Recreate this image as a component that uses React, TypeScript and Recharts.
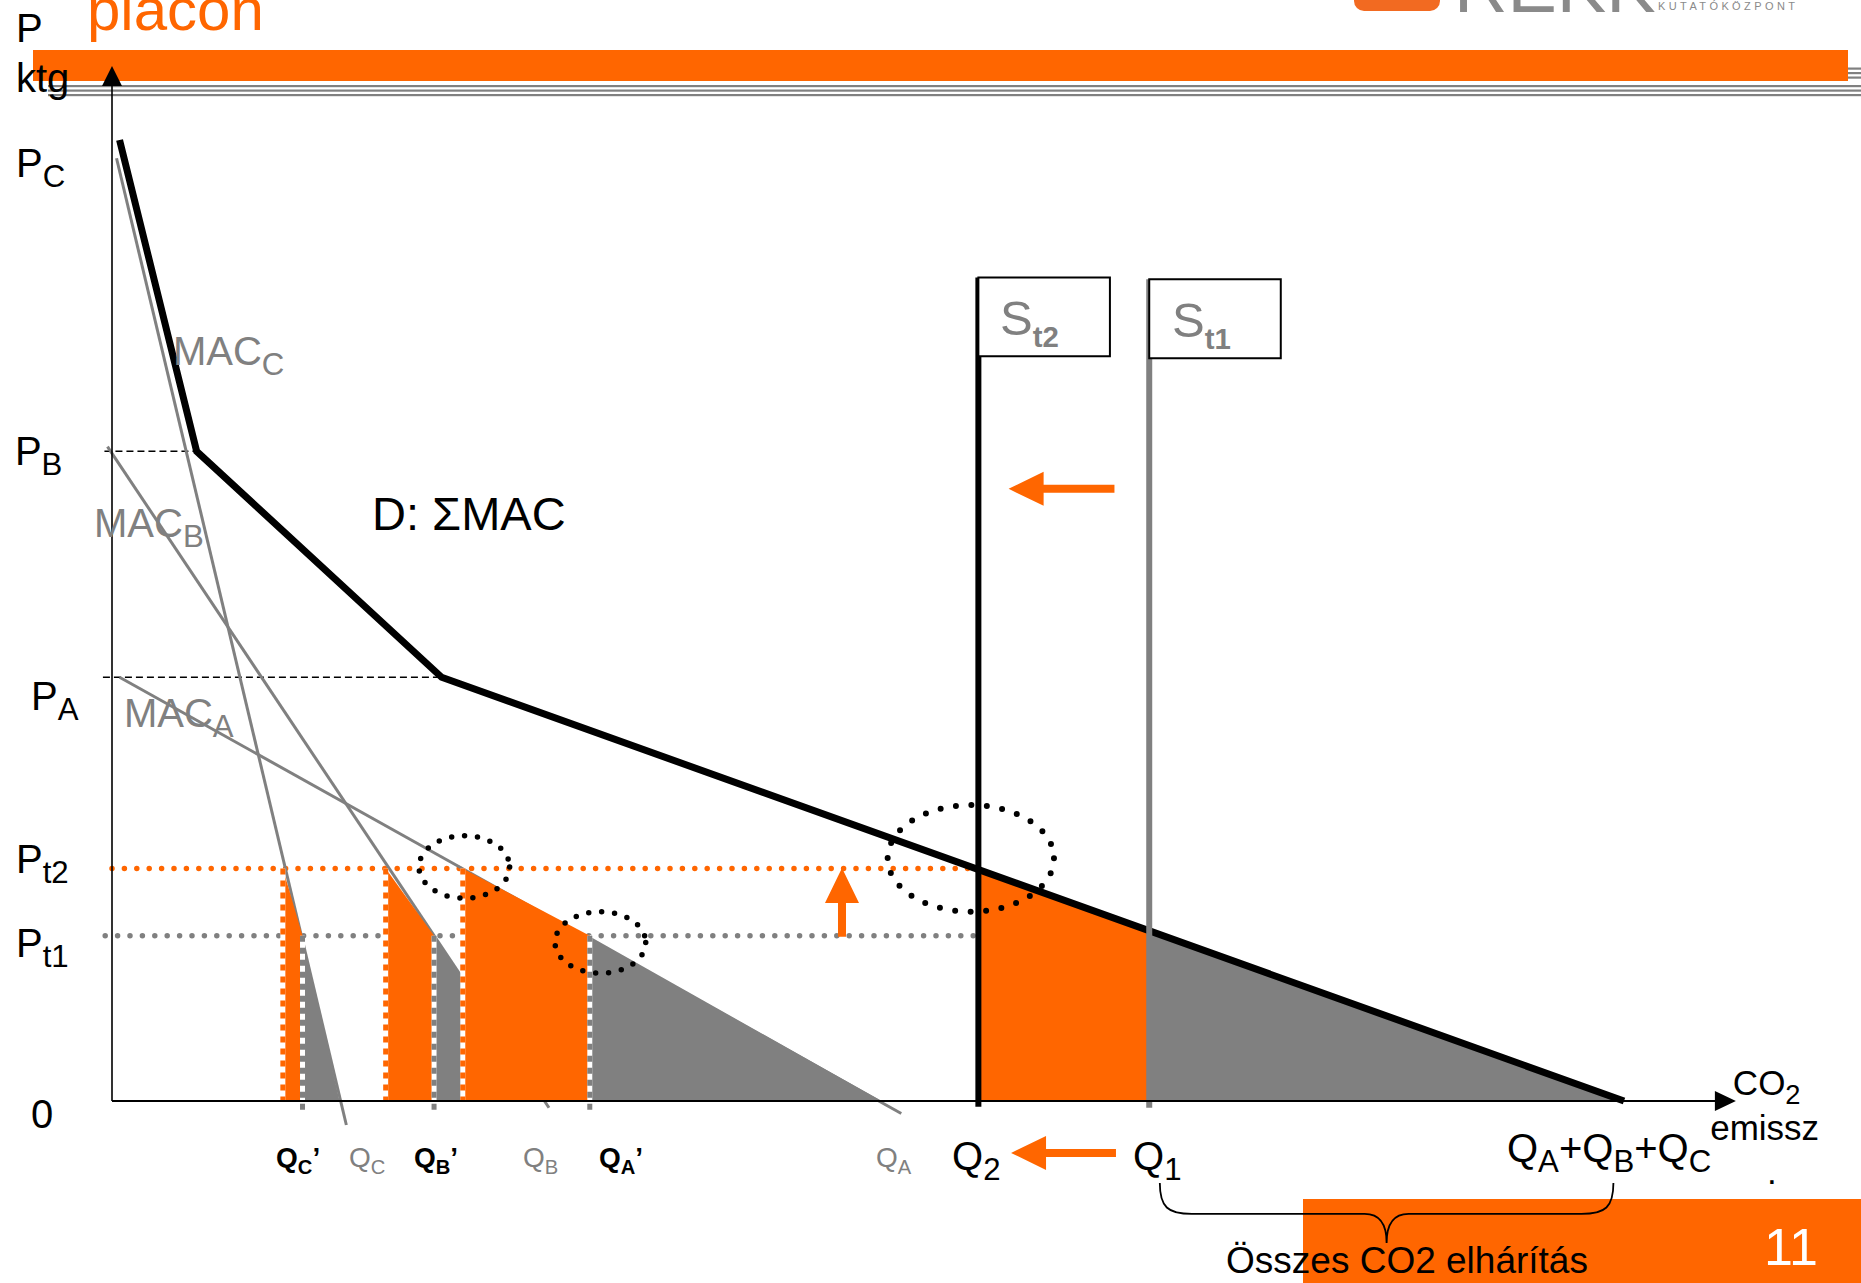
import React from 'react';
import {
  Area,
  ComposedChart,
  Line,
  ReferenceArea,
  ReferenceDot,
  ReferenceLine,
  XAxis,
  YAxis,
} from 'recharts';

const FONT = "'Liberation Sans', Arial, Helvetica, sans-serif";
const ORANGE = '#FF6600';
const GRAY = '#808080';
const W = 1861;
const H = 1283;

// price levels (price units)
const P_B = 67.6;
const P_A = 44.1;
const P_T2 = 24.2;
const P_T1 = 17.2;

// aggregate demand D = sum of MAC curves
const demandPoints = [
  { x: 0.5, y: 100 },
  { x: 5.6, y: 67.6 },
  { x: 21.8, y: 44.1 },
  { x: 100, y: 0 },
];

// marginal abatement cost lines of the three firms
const macC = [
  { x: 0.3, y: 98.1 },
  { x: 15.5, y: -2.5 },
];
const macB = [
  { x: -0.3, y: 68.1 },
  { x: 28.9, y: -0.7 },
];
const macA = [
  { x: 0.5, y: 44.1 },
  { x: 52.2, y: -1.3 },
];

// firm emissions: C, B, A
const firms = ['C', 'B', 'A'];
const qAtPt2 = [11.3, 18.1, 23.2];
const qAtPt1 = [12.6, 21.3, 31.6];
const qFree = [15.1, 28.6, 51.0];

// caps and totals
const Q2 = 57.3;
const Q1 = 68.6;
const Q_SUM = 100;
const D_AT_Q1 = 17.6;
const capTops = [85.7, 85.5]; // S_t2, S_t1

const X_DOMAIN: [number, number] = [-7, 115.5];
const Y_DOMAIN: [number, number] = [-18, 112];
const MARGIN = { top: 24.68, right: 2.64, bottom: 9.02, left: 6.16 };

type Part = [string, 's'?];
interface LabelDef {
  at: [number, number];
  parts: Part[];
  size: number;
  fill?: string;
  bold?: boolean;
  subBold?: boolean;
  subScale?: number;
}

const LABELS: LabelDef[] = [
  { at: [-6.35, 110.2], parts: [['P']], size: 40 },
  { at: [-6.35, 105.0], parts: [['ktg']], size: 40 },
  { at: [-6.35, 96.15], parts: [['P'], ['C', 's']], size: 40 },
  { at: [-6.42, 66.2], parts: [['P'], ['B', 's']], size: 40 },
  { at: [-5.36, 40.69], parts: [['P'], ['A', 's']], size: 40 },
  { at: [-6.35, 23.73], parts: [['P'], ['t2', 's']], size: 40 },
  { at: [-6.35, 14.98], parts: [['P'], ['t1', 's']], size: 40 },
  { at: [-5.36, -2.81], parts: [['0']], size: 40 },
  { at: [4.03, 76.59], parts: [['MAC'], ['C', 's']], size: 40, fill: GRAY },
  { at: [-1.19, 58.69], parts: [['MAC'], ['B', 's']], size: 40, fill: GRAY },
  { at: [0.79, 38.92], parts: [['MAC'], ['A', 's']], size: 40, fill: GRAY },
  { at: [17.2, 59.4], parts: [['D: ΣMAC']], size: 47 },
  { at: [58.73, 79.71], parts: [['S'], ['t2', 's']], size: 49, fill: GRAY, subBold: true, subScale: 0.6 },
  { at: [70.11, 79.5], parts: [['S'], ['t1', 's']], size: 49, fill: GRAY, subBold: true, subScale: 0.6 },
  { at: [10.85, -6.87], parts: [['Q'], ['C', 's'], ['’']], size: 28, bold: true, subScale: 0.72 },
  { at: [15.67, -6.87], parts: [['Q'], ['C', 's']], size: 28, fill: GRAY, subScale: 0.72 },
  { at: [19.97, -6.87], parts: [['Q'], ['B', 's'], ['’']], size: 28, bold: true, subScale: 0.72 },
  { at: [27.18, -6.87], parts: [['Q'], ['B', 's']], size: 28, fill: GRAY, subScale: 0.72 },
  { at: [32.21, -6.87], parts: [['Q'], ['A', 's'], ['’']], size: 28, bold: true, subScale: 0.72 },
  { at: [50.53, -6.87], parts: [['Q'], ['A', 's']], size: 28, fill: GRAY, subScale: 0.72 },
  { at: [55.56, -7.18], parts: [['Q'], ['2', 's']], size: 40 },
  { at: [67.53, -7.18], parts: [['Q'], ['1', 's']], size: 40 },
  { at: [92.26, -6.35], parts: [['Q'], ['A', 's'], ['+Q'], ['B', 's'], ['+Q'], ['C', 's']], size: 40 },
  { at: [107.2, 0.6], parts: [['CO'], ['2', 's']], size: 35 },
  { at: [105.7, -4.1], parts: [['emissz']], size: 35 },
  { at: [109.46, -8.6], parts: [['.']], size: 35 },
  { at: [73.68, -17.85], parts: [['Összes CO2 elhárítás']], size: 37 },
];

// dotted ellipses highlighting intersections
const ELLIPSES = [
  { x1: 51.3, x2: 62.3, y1: 19.7, y2: 30.8, w: 6, gap: 15.5 },
  { x1: 20.3, x2: 26.3, y1: 21.1, y2: 27.6, w: 5.5, gap: 13 },
  { x1: 29.3, x2: 35.3, y1: 13.3, y2: 19.7, w: 5.5, gap: 13 },
];

// orange arrows: [tail, tip]
const ARROWS = [
  [{ x: 66.3, y: 63.7 }, { x: 59.3, y: 63.7 }],
  [{ x: 48.28, y: 17.1 }, { x: 48.28, y: 24.25 }],
  [{ x: 66.4, y: -5.4 }, { x: 59.46, y: -5.4 }],
];

function RichText({ cx, cy, def }: { cx: number; cy: number; def: LabelDef }) {
  const sub = def.size * (def.subScale ?? 0.78);
  const shift = def.size * 0.25;
  let offset = 0;
  return (
    <text
      x={cx}
      y={cy}
      fontFamily={FONT}
      fontSize={def.size}
      fill={def.fill ?? '#000'}
      fontWeight={def.bold ? 'bold' : 'normal'}
    >
      {def.parts.map(([t, k], i) => {
        const target = k === 's' ? shift : 0;
        const dy = target - offset;
        offset = target;
        return (
          <tspan
            key={i}
            dy={dy}
            fontSize={k === 's' ? sub : def.size}
            fontWeight={k === 's' && def.subBold ? 'bold' : undefined}
          >
            {t}
          </tspan>
        );
      })}
    </text>
  );
}

const arrowShape = (head: number, half: number, shaft: number, color: string) => (p: any) => {
  const { x1, y1, x2, y2 } = p;
  const dx = x2 - x1;
  const dy = y2 - y1;
  const len = Math.hypot(dx, dy) || 1;
  const ux = dx / len;
  const uy = dy / len;
  const nx = -uy;
  const ny = ux;
  const bx = x2 - ux * head;
  const by = y2 - uy * head;
  const s = shaft / 2;
  const pts = [
    [x1 + nx * s, y1 + ny * s],
    [bx + nx * s, by + ny * s],
    [bx + nx * half, by + ny * half],
    [x2, y2],
    [bx - nx * half, by - ny * half],
    [bx - nx * s, by - ny * s],
    [x1 - nx * s, y1 - ny * s],
  ];
  return <polygon points={pts.map((q) => q.join(',')).join(' ')} fill={color} />;
};

const dashedEdge = (color: string) => (p: any) => (
  <g>
    <line x1={p.x1} y1={p.y1} x2={p.x2} y2={p.y2} stroke="#fff" strokeWidth={5} />
    <line x1={p.x1} y1={p.y1} x2={p.x2} y2={p.y2} stroke={color} strokeWidth={5} strokeDasharray="6 6" />
  </g>
);

const braceShape = (p: any) => {
  const { x1, y1, x2 } = p;
  const m = (x1 + x2) / 2;
  const d = 31;
  const tip = 60;
  const path =
    `M${x1},${y1} C${x1},${y1 + 24} ${x1 + 8},${y1 + d} ${x1 + 32},${y1 + d} ` +
    `L${m - 22},${y1 + d} C${m - 8},${y1 + d} ${m},${y1 + 40} ${m},${y1 + tip} ` +
    `C${m},${y1 + 40} ${m + 8},${y1 + d} ${m + 22},${y1 + d} ` +
    `L${x2 - 32},${y1 + d} C${x2 - 8},${y1 + d} ${x2},${y1 + 24} ${x2},${y1}`;
  return <path d={path} fill="none" stroke="#000" strokeWidth={1.8} />;
};

const ellipseShape = (w: number, gap: number) => (p: any) => (
  <ellipse
    cx={p.x + p.width / 2}
    cy={p.y + p.height / 2}
    rx={Math.abs(p.width) / 2}
    ry={Math.abs(p.height) / 2}
    fill="none"
    stroke="#000"
    strokeWidth={w}
    strokeDasharray={`0 ${gap}`}
    strokeLinecap="round"
  />
);

function Decorations() {
  const stripes = [67.5, 72, 76.5, 85, 89.5, 94];
  return (
    <svg width={W} height={H} style={{ position: 'absolute', left: 0, top: 0 }}>
      {stripes.map((y) => (
        <rect key={y} x={48} y={y} width={W - 48} height={2.2} fill={GRAY} />
      ))}
      <rect x={33} y={50} width={1815} height={31} fill={ORANGE} />
      <text x={87} y={30} fontSize={60} fill={ORANGE} fontFamily={FONT}>
        piacon
      </text>
      <rect x={1354} y={-40} width={86} height={51} rx={10} fill="#F26A21" />
      <text x={1454} y={12} fontSize={74} fill="#8A8A8A" fontFamily={FONT}>
        REKK
      </text>
      <text x={1658} y={10} fontSize={11} letterSpacing={3.4} fill="#8A8A8A" fontFamily={FONT}>
        KUTATÓKÖZPONT
      </text>
      <rect x={1303} y={1199} width={W - 1303} height={H - 1199} fill={ORANGE} />
      <text x={1764} y={1265} fontSize={52} fill="#fff" fontFamily={FONT}>
        11
      </text>
    </svg>
  );
}

export default function App() {
  const orangeStrips = firms.map((_, i) => [
    { x: qAtPt2[i], y: P_T2 },
    { x: qAtPt1[i], y: P_T1 },
  ]);
  const grayStrips = firms.map((_, i) => [
    { x: qAtPt1[i], y: P_T1 },
    { x: qFree[i], y: 0 },
  ]);
  const orangeMain = [
    { x: Q2, y: P_T2 },
    { x: Q1, y: D_AT_Q1 },
  ];
  const grayMain = [
    { x: Q1, y: D_AT_Q1 },
    { x: Q_SUM, y: 0 },
  ];

  return (
    <div
      style={{
        position: 'absolute',
        left: 0,
        top: 0,
        width: W,
        height: H,
        background: '#fff',
        overflow: 'hidden',
      }}
    >
      <Decorations />
      <div style={{ position: 'absolute', left: 0, top: 0 }}>
        <ComposedChart width={W} height={H} margin={MARGIN}>
          <XAxis type="number" dataKey="x" domain={X_DOMAIN} allowDataOverflow hide />
          <YAxis type="number" domain={Y_DOMAIN} allowDataOverflow hide />

          {/* price level guides */}
          <ReferenceLine
            segment={[{ x: -0.5, y: P_B }, { x: demandPoints[1].x, y: P_B }]}
            stroke="#000"
            strokeWidth={1.5}
            strokeDasharray="7 4"
            ifOverflow="visible"
            zIndex={10}
          />
          <ReferenceLine
            segment={[{ x: -0.6, y: P_A }, { x: demandPoints[2].x, y: P_A }]}
            stroke="#000"
            strokeWidth={1.5}
            strokeDasharray="7 4"
            ifOverflow="visible"
            zIndex={10}
          />
          <ReferenceLine
            segment={[{ x: 0, y: P_T2 }, { x: Q2, y: P_T2 }]}
            stroke={ORANGE}
            strokeWidth={5.5}
            strokeDasharray="0 12.4"
            strokeLinecap="round"
            ifOverflow="visible"
            zIndex={10}
          />
          <ReferenceLine
            segment={[{ x: -0.45, y: P_T1 }, { x: Q2, y: P_T1 }]}
            stroke={GRAY}
            strokeWidth={5.5}
            strokeDasharray="0 12.4"
            strokeLinecap="round"
            ifOverflow="visible"
            zIndex={10}
          />

          {/* gray abatement cost areas */}
          {grayStrips.map((d, i) => (
            <Area
              key={`g${i}`}
              data={d}
              dataKey="y"
              type="linear"
              baseValue={0}
              fill={GRAY}
              fillOpacity={1}
              stroke="#fff"
              strokeWidth={1.5}
              dot={false}
              activeDot={false}
              isAnimationActive={false}
              zIndex={20}
            />
          ))}
          <Area
            data={grayMain}
            dataKey="y"
            type="linear"
            baseValue={0}
            fill={GRAY}
            fillOpacity={1}
            stroke="#fff"
            strokeWidth={1.5}
            dot={false}
            activeDot={false}
            isAnimationActive={false}
            zIndex={20}
          />

          {/* MAC lines */}
          {[macC, macB, macA].map((d, i) => (
            <Line
              key={`m${i}`}
              data={d}
              dataKey="y"
              type="linear"
              stroke={GRAY}
              strokeWidth={3}
              dot={false}
              activeDot={false}
              isAnimationActive={false}
              zIndex={30}
            />
          ))}

          {/* orange additional abatement areas */}
          {orangeStrips.map((d, i) => (
            <Area
              key={`o${i}`}
              data={d}
              dataKey="y"
              type="linear"
              baseValue={0}
              fill={ORANGE}
              fillOpacity={1}
              stroke="none"
              dot={false}
              activeDot={false}
              isAnimationActive={false}
              zIndex={40}
            />
          ))}
          <Area
            data={orangeMain}
            dataKey="y"
            type="linear"
            baseValue={0}
            fill={ORANGE}
            fillOpacity={1}
            stroke="#fff"
            strokeWidth={1.5}
            dot={false}
            activeDot={false}
            isAnimationActive={false}
            zIndex={40}
          />

          {/* dashed boundaries of the strips */}
          {firms.map((_, i) => (
            <ReferenceLine
              key={`eo${i}`}
              segment={[{ x: qAtPt2[i], y: P_T2 }, { x: qAtPt2[i], y: 0 }]}
              shape={dashedEdge(ORANGE)}
              ifOverflow="visible"
              zIndex={50}
            />
          ))}
          {firms.map((_, i) => (
            <ReferenceLine
              key={`eg${i}`}
              segment={[{ x: qAtPt1[i], y: P_T1 }, { x: qAtPt1[i], y: -1.0 }]}
              shape={dashedEdge(GRAY)}
              ifOverflow="visible"
              zIndex={50}
            />
          ))}

          {/* demand curve */}
          <Line
            data={demandPoints}
            dataKey="y"
            type="linear"
            stroke="#000"
            strokeWidth={7}
            strokeLinejoin="miter"
            dot={false}
            activeDot={false}
            isAnimationActive={false}
            zIndex={60}
          />

          {/* supply caps */}
          <ReferenceLine
            segment={[{ x: Q2, y: capTops[0] }, { x: Q2, y: -0.6 }]}
            stroke="#000"
            strokeWidth={6}
            ifOverflow="visible"
            zIndex={70}
          />
          <ReferenceLine
            segment={[{ x: Q1, y: capTops[1] }, { x: Q1, y: -0.7 }]}
            stroke={GRAY}
            strokeWidth={6}
            ifOverflow="visible"
            zIndex={70}
          />
          <ReferenceArea
            x1={Q2}
            x2={66.0}
            y1={77.5}
            y2={capTops[0]}
            fill="#fff"
            fillOpacity={1}
            stroke="#000"
            strokeWidth={2}
            ifOverflow="visible"
            zIndex={70}
          />
          <ReferenceArea
            x1={Q1}
            x2={77.3}
            y1={77.3}
            y2={capTops[1]}
            fill="#fff"
            fillOpacity={1}
            stroke="#000"
            strokeWidth={2}
            ifOverflow="visible"
            zIndex={70}
          />

          {/* axes with arrow heads */}
          <ReferenceLine
            segment={[{ x: 0, y: 0 }, { x: 0, y: 107.7 }]}
            shape={arrowShape(20, 10, 1.6, '#000')}
            ifOverflow="visible"
            zIndex={80}
          />
          <ReferenceLine
            segment={[{ x: 0, y: 0 }, { x: 107.4, y: 0 }]}
            shape={arrowShape(21, 10, 2, '#000')}
            ifOverflow="visible"
            zIndex={80}
          />

          {/* dotted ellipses */}
          {ELLIPSES.map((e, i) => (
            <ReferenceArea
              key={`el${i}`}
              x1={e.x1}
              x2={e.x2}
              y1={e.y1}
              y2={e.y2}
              shape={ellipseShape(e.w, e.gap)}
              ifOverflow="visible"
              zIndex={90}
            />
          ))}

          {/* orange arrows */}
          {ARROWS.map((a, i) => (
            <ReferenceLine
              key={`ar${i}`}
              segment={a}
              shape={arrowShape(35, 17, 8, ORANGE)}
              ifOverflow="visible"
              zIndex={95}
            />
          ))}

          {/* brace under the total abatement */}
          <ReferenceLine
            segment={[{ x: 69.3, y: -8.53 }, { x: 99.3, y: -8.53 }]}
            shape={braceShape}
            ifOverflow="visible"
            zIndex={95}
          />

          {/* text labels */}
          {LABELS.map((l, i) => (
            <ReferenceDot
              key={`l${i}`}
              x={l.at[0]}
              y={l.at[1]}
              r={0}
              ifOverflow="visible"
              shape={(p: any) => <RichText cx={p.cx} cy={p.cy} def={l} />}
              zIndex={100}
            />
          ))}
        </ComposedChart>
      </div>
    </div>
  );
}
